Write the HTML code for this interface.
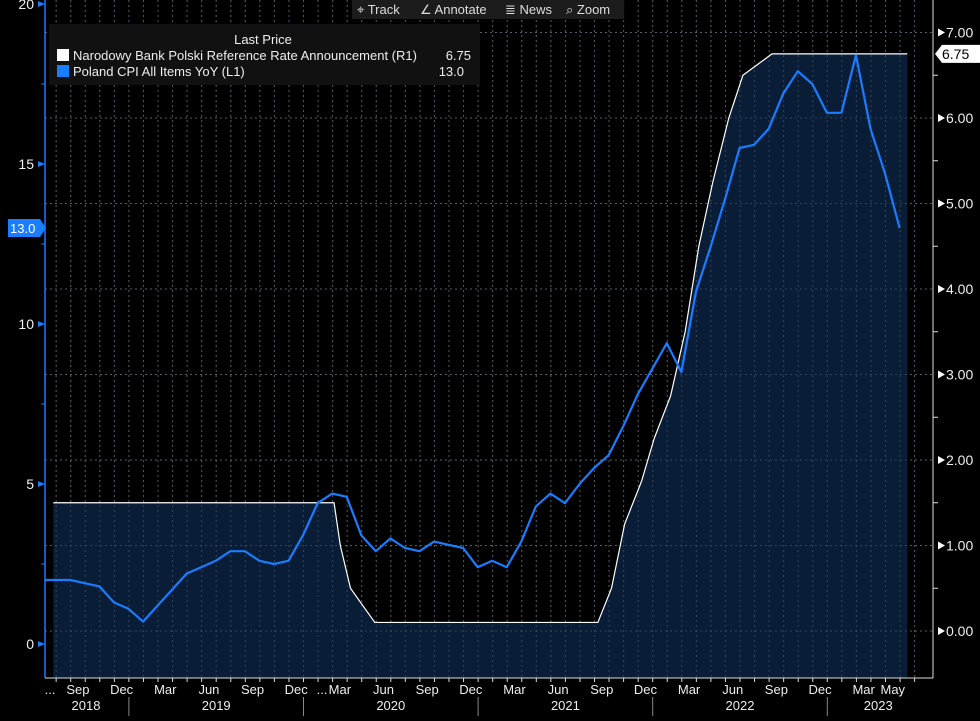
<!DOCTYPE html>
<html><head><meta charset="utf-8"><style>
body{margin:0;background:#000;width:980px;height:716px;overflow:hidden;font-family:"Liberation Sans",sans-serif}
svg text{font-family:"Liberation Sans",sans-serif}
</style></head><body>
<svg id="c" width="980" height="716" xmlns="http://www.w3.org/2000/svg"></svg>
<script>
// CPI monthly values starting Jun 2018 (L1, %)
const cpiStart = -7; // months relative to Jan 2019
const cpiValues = [2.0,2.0,2.0,1.9,1.8,1.3,1.1,0.7,1.2,1.7,2.2,2.4,2.6,2.9,2.9,2.6,2.5,2.6,3.4,4.4,4.7,4.6,3.4,2.9,3.3,3.0,2.9,3.2,3.1,3.0,2.4,2.6,2.4,3.2,4.3,4.7,4.4,5.0,5.5,5.9,6.8,7.8,8.6,9.4,8.5,11.0,12.4,13.9,15.5,15.6,16.1,17.2,17.9,17.5,16.6,16.6,18.4,16.1,14.7,13.0];
// Reference rate announcements: months since Jan 1 2019 (fractional) and rate (R1, %)
const rateDates = [-5.2,14.1,14.53,15.23,16.9,32.23,33.17,34.07,35.23,36.1,37.23,38.23,39.17,40.13,41.23,42.2,44.2,53.5];
const rateValues = [1.5,1.5,1.0,0.5,0.1,0.1,0.5,1.25,1.75,2.25,2.75,3.5,4.5,5.25,6.0,6.5,6.75,6.75];
const leftTicks = [0,5,10,15,20];
const rightTicks = ["0.00","1.00","2.00","3.00","4.00","5.00","6.00","7.00"];
const monthLabels = ["Sep","Dec","Mar","Jun","May"];
const years = ["2018","2019","2020","2021","2022","2023"];

const NS="http://www.w3.org/2000/svg", svg=document.getElementById('c');
function el(t,a,p){const e=document.createElementNS(NS,t);for(const k in a)e.setAttribute(k,a[k]);(p||svg).appendChild(e);return e;}
const xM=m=>128.9+m*14.55;
const yL=v=>644-v*32;
const yR=v=>631-v*85.5;
const PL=45,PR=933,PB=678;

for(let i=0;i<rightTicks.length;i++){const y=yR(+rightTicks[i]);
 const g=el('line',{x1:PL,x2:PR,y1:y,y2:y,stroke:'#666','stroke-dasharray':'2,3'});
 }
for(let m=-6;m<=54;m++){const x=xM(m);if(x<=PL||x>=PR)continue;
 const g=el('line',{x1:x,x2:x,y1:0,y2:PB,stroke:'#555','stroke-dasharray':'2,3'});
 }

let pts=rateDates.map((d,i)=>[xM(d),yR(rateValues[i])]);
let dA=`M${pts[0][0]},${PB} `+pts.map(p=>`L${p[0]},${p[1]}`).join(' ')+` L${pts[pts.length-1][0]},${PB} Z`;
const area=el('path',{d:dA,fill:'#0b1f3a',opacity:'0.95'});

for(let m=-6;m<=54;m++){const x=xM(m);if(x<=PL||x>=PR)continue;
 const g=el('line',{x1:x,x2:x,y1:0,y2:PB,stroke:'#4a5870','stroke-dasharray':'2,3',opacity:'0.6'});
 }
for(let i=0;i<rightTicks.length;i++){const y=yR(+rightTicks[i]);
 const g=el('line',{x1:PL,x2:PR,y1:y,y2:y,stroke:'#4a5870','stroke-dasharray':'2,3',opacity:'0.6'});
 }
const rl=el('polyline',{points:pts.map(p=>p.join(',')).join(' '),fill:'none',stroke:'#fff','stroke-width':1.2});


const cp=cpiValues.map((v,i)=>[Math.max(PL,xM(cpiStart+i+0.97)),yL(v)]);
const cl=el('polyline',{points:cp.map(p=>p.join(',')).join(' '),fill:'none',stroke:'#1a7cff','stroke-width':2.2,'stroke-linejoin':'round'});


const la=el('line',{x1:PL,x2:PL,y1:0,y2:PB,stroke:'#1a7cff','stroke-width':1.5});

const ra=el('line',{x1:PR,x2:PR,y1:0,y2:PB,stroke:'#ddd','stroke-width':1});

const ba=el('line',{x1:PL,x2:PR,y1:PB,y2:PB,stroke:'#ddd','stroke-width':1});

for(const v of leftTicks){const y=yL(v);
 el('path',{d:`M${PL},${y} l-7,-3 v6 z`,fill:'#1a7cff'});
 const t=el('text',{x:34,y:y+5,fill:'#eee','font-size':14,'text-anchor':'end'});t.textContent=v;
 }
for(let v=2.5;v<20;v+=5){el('line',{x1:PL-4,x2:PL,y1:yL(v),y2:yL(v),stroke:'#1a7cff'});}
for(const s of rightTicks){const y=yR(+s);
 el('path',{d:`M${PR+5},${y-4} l7,4 l-7,4 z`,fill:'#fff'});
 const t=el('text',{x:946,y:y+5,fill:'#eee','font-size':14});t.textContent=s;
 }
for(let v=0.5;v<7;v++){el('line',{x1:PR,x2:PR+5,y1:yR(v),y2:yR(v),stroke:'#ddd'});}
const rb=el('g',{});
el('path',{d:`M${PR+2},${yR(6.75)} l7,-9 h57 v18 h-57 z`,fill:'#fff'},rb);
const rt=el('text',{x:942,y:yR(6.75)+5,fill:'#000','font-size':14},rb);rt.textContent='6.75';
const cb=el('g',{});
el('path',{d:`M8,${yL(13)-9} h32 l6,9 l-6,9 h-32 z`,fill:'#1a7cff'},cb);
const ct=el('text',{x:10,y:yL(13)+5,fill:'#fff','font-size':13},cb);ct.textContent='13.0';

for(let m=-6;m<=54;m++){const x=xM(m);if(x<PL||x>PR)continue;el('line',{x1:x,x2:x,y1:PB,y2:PB+4,stroke:'#ddd'});}
for(let m=-6;m<=52;m++){const mo=((m%12)+12)%12;let lab=null;
 if(mo===8)lab=monthLabels[0];else if(mo===11)lab=monthLabels[1];else if(mo===2)lab=monthLabels[2];else if(mo===5)lab=monthLabels[3];
 if(m===52)lab=monthLabels[4];
 if(!lab)continue;const t=el('text',{x:xM(m+0.5),y:694,fill:'#eee','font-size':13,'text-anchor':'middle'});t.textContent=lab;
 }
for(const d of [[50,'...'],[322,'...']]){const t=el('text',{x:d[0],y:694,fill:'#eee','font-size':13,'text-anchor':'middle'});t.textContent=d[1];}
const yc=[86,xM(6),xM(18),xM(30),xM(42),xM(51.5)];
years.forEach((y,i)=>{const t=el('text',{x:yc[i],y:710,fill:'#eee','font-size':13,'text-anchor':'middle'});t.textContent=y;
 
 if(i>0){const x=xM((i-1)*12);el('line',{x1:x,x2:x,y1:697,y2:716,stroke:'#888'});}});

const tb=el('g',{});
el('rect',{x:352,y:0,width:272,height:19,fill:'#1c1c1c'},tb);
[[357,'⌖ Track','track-button'],[420,'∠ Annotate','annotate-button'],[505,'≣ News','news-button'],[566,'⌕ Zoom','zoom-button']].forEach(b=>{
 const t=el('text',{x:b[0],y:14,fill:'#ddd','font-size':13},tb);t.textContent=b[1];
 });
const lg=el('g',{});
el('rect',{x:49,y:24,width:431,height:61,fill:'#111'},lg);
let t=el('text',{x:263,y:44,fill:'#eee','font-size':13,'text-anchor':'middle'},lg);t.textContent='Last Price';
el('rect',{x:57,y:49,width:12,height:12,fill:'#fff'},lg);
t=el('text',{x:73,y:60,fill:'#eee','font-size':13},lg);t.textContent='Narodowy Bank Polski Reference Rate Announcement  (R1)';

t=el('text',{x:471,y:60,fill:'#eee','font-size':13,'text-anchor':'end'},lg);t.textContent='6.75';
el('rect',{x:57,y:65,width:12,height:12,fill:'#1a7cff'},lg);
t=el('text',{x:73,y:76,fill:'#eee','font-size':13},lg);t.textContent='Poland CPI All Items YoY  (L1)';

t=el('text',{x:464,y:76,fill:'#eee','font-size':13,'text-anchor':'end'},lg);t.textContent='13.0';
</script>
</body></html>
